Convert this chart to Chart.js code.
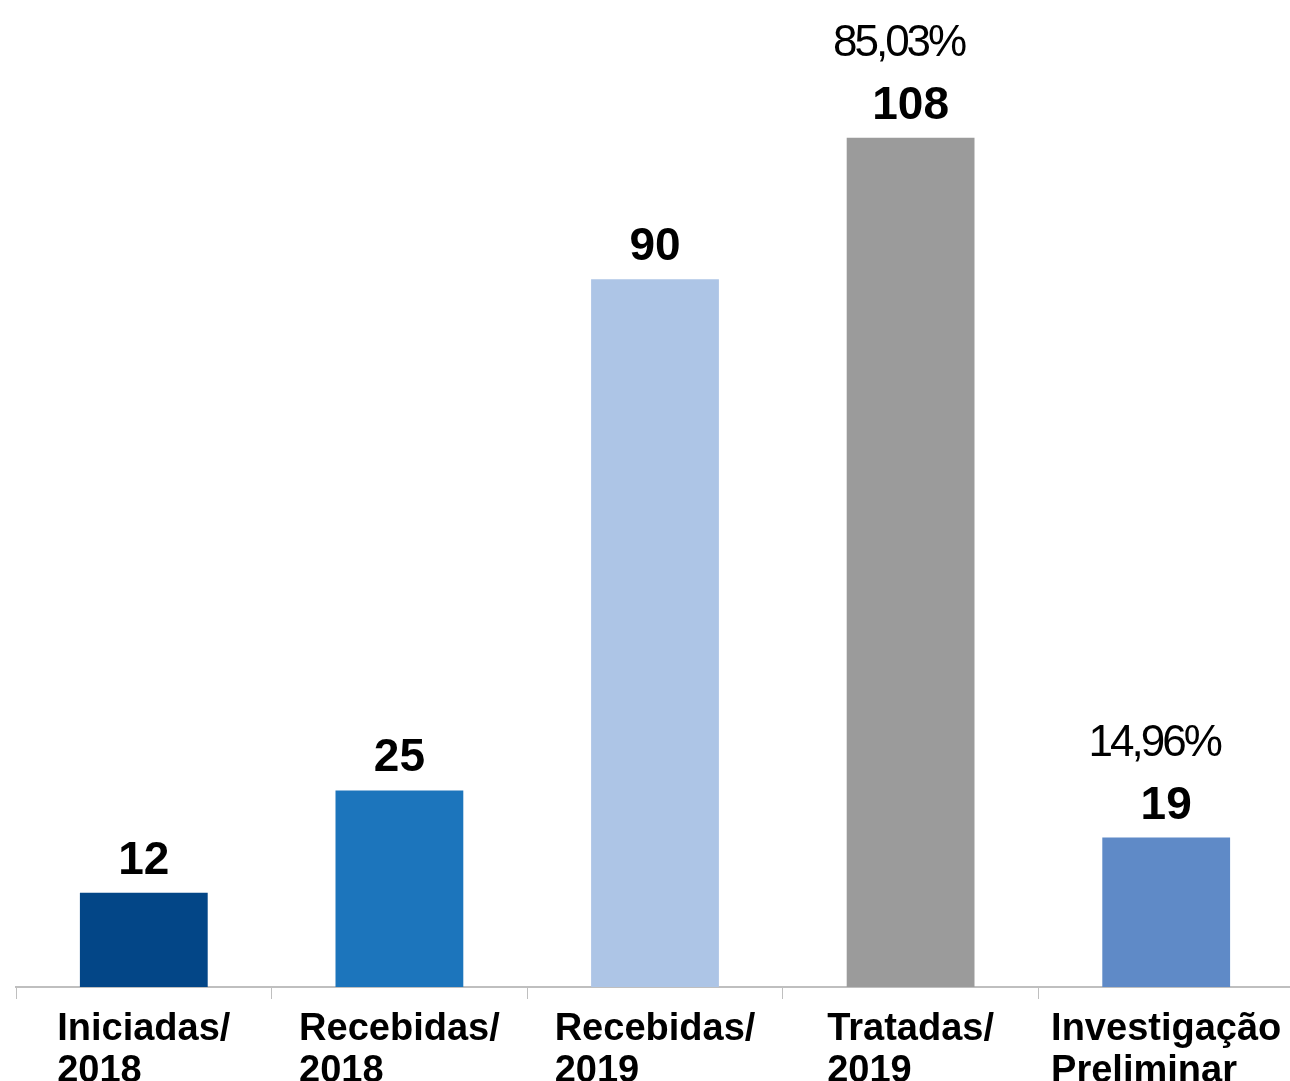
<!DOCTYPE html>
<html>
<head>
<meta charset="utf-8">
<script src="https://cdn.jsdelivr.net/npm/chart.js@4"></script>
<style>
  html, body { margin: 0; padding: 0; background: #fff; overflow: hidden; }
  canvas { display: block; }
</style>
</head>
<body>
<canvas id="chart" width="1294" height="1081"></canvas>
<script>
// categories (two lines each)
const categories = [
  ["Iniciadas/", "2018"],
  ["Recebidas/", "2018"],
  ["Recebidas/", "2019"],
  ["Tratadas/", "2019"],
  ["Investigação", "Preliminar"]
];
const values = [12, 25, 90, 108, 19];
const percentLabels = [null, null, null, "85,03%", "14,96%"];
const barColors = ["#034687", "#1C75BC", "#ADC5E6", "#9B9B9B", "#5F8AC7"];

const FONT = "'Liberation Sans', Arial, sans-serif";

// draws value labels, percentages and the two-line category labels
const labelPlugin = {
  id: "labels",
  afterDatasetsDraw(chart) {
    const ctx = chart.ctx;
    const meta = chart.getDatasetMeta(0);
    ctx.save();
    ctx.fillStyle = "#000";
    ctx.textBaseline = "alphabetic";
    meta.data.forEach((bar, i) => {
      ctx.textAlign = "center";
      ctx.font = "bold 46px " + FONT;
      ctx.letterSpacing = "0px";
      const valueBase = bar.y - 19;
      ctx.fillText(String(values[i]), bar.x, valueBase);
      if (percentLabels[i]) {
        ctx.font = "44px " + FONT;
        ctx.letterSpacing = "-3px";
        ctx.fillText(percentLabels[i], bar.x - 12, valueBase - 63);
      }
    });
    // category labels: block centered, lines left aligned
    const xs = chart.scales.x;
    ctx.font = "bold 38px " + FONT;
    ctx.letterSpacing = "0px";
    ctx.textAlign = "left";
    categories.forEach((lines, i) => {
      const cx = xs.getPixelForValue(i);
      const w = Math.max(...lines.map(l => ctx.measureText(l).width));
      lines.forEach((l, j) => {
        ctx.fillText(l, cx - w / 2, chart.chartArea.bottom + 53 + j * 42);
      });
    });
    ctx.restore();
  }
};

new Chart(document.getElementById("chart"), {
  type: "bar",
  data: {
    labels: categories.map(c => c.join(" ")),
    datasets: [{
      data: values,
      backgroundColor: barColors,
      barPercentage: 0.5,
      categoryPercentage: 1.0
    }]
  },
  options: {
    responsive: false,
    animation: false,
    layout: { padding: { top: 0, left: 16, right: 0, bottom: 82 } },
    plugins: {
      legend: { display: false },
      tooltip: { enabled: false }
    },
    scales: {
      x: {
        ticks: { display: false },
        grid: {
          offset: true,
          drawOnChartArea: false,
          drawTicks: true,
          tickLength: 12,
          color: "#BFBFBF",
          lineWidth: 1
        },
        border: { display: true, color: "#BFBFBF", width: 2 }
      },
      y: {
        display: false,
        min: 0,
        max: 125.5
      }
    }
  },
  plugins: [labelPlugin]
});
</script>
</body>
</html>
